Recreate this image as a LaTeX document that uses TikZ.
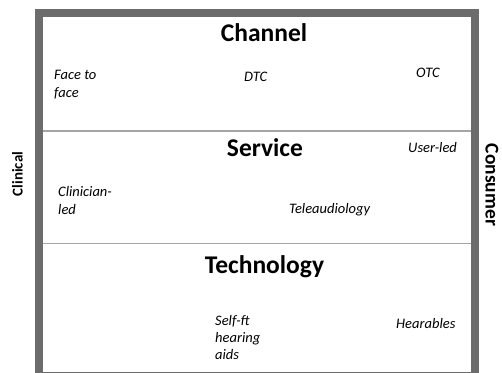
\documentclass[tikz,border=0pt]{standalone}
\usepackage{fontspec}
\setmainfont{Carlito}
\usepackage{tikz}
\usetikzlibrary{positioning}
\definecolor{framegray}{RGB}{108,108,108}
\definecolor{rulegray}{RGB}{165,165,165}

\begin{document}
\begin{tikzpicture}[x=1pt,y=1pt,
  heading/.style={inner sep=0pt, anchor=base, font=\fontsize{25.5}{30}\selectfont\bfseries},
  item/.style={inner sep=0pt, anchor=base west, align=left, font=\fontsize{14.5}{17.6}\selectfont\itshape},
  side/.style={inner sep=0pt, font=\bfseries}]
\useasboundingbox (0,0) rectangle (502,372);

% Frame and the two dividers
\draw[framegray, line width=8pt] (39,359) rectangle (475,-4);
\coordinate (divAl) at (43,241);
\coordinate (divAr) at (471,241);
\coordinate (divBl) at (43,128.5);
\coordinate (divBr) at (471,128.5);
\draw[rulegray, line width=1.1pt] (divAl) -- (divAr);
\draw[rulegray, line width=1.1pt] (divBl) -- (divBr);

% Row headings
\node[heading] (channel) at (264,330) {Channel};
\node[heading] (service) at (265,215) {Service};
\node[heading] (technology) at (264.5,99) {Technology};

% Channel row (base = last line)
\node[item] (facetoface) at (54,274.5) {Face to\\face};
\node[item] (dtc) at (244,290) {DTC};
\node[item] (otc) at (416,294) {OTC};

% Service row
\node[item] (userled) at (408,219) {User-led};
\node[item] (clinicianled) at (58,157.5) {Clinician-\\led};
\node[item] (teleaudiology) at (289,158) {Teleaudiology};

% Technology row
\node[item, font=\fontsize{14.5}{17}\selectfont\itshape] (selffit) at (215,13) {Self-ft\\hearing\\aids};
\node[item] (hearables) at (396,44) {Hearables};

% Axis ends
\node[side, rotate=90, font=\fontsize{15}{18}\selectfont\bfseries] (clinical) at (17.5,198) {Clinical};
\node[side, rotate=-90, font=\fontsize{19.5}{23}\selectfont\bfseries] (consumer) at (492,187) {Consumer};
\end{tikzpicture}
\end{document}
